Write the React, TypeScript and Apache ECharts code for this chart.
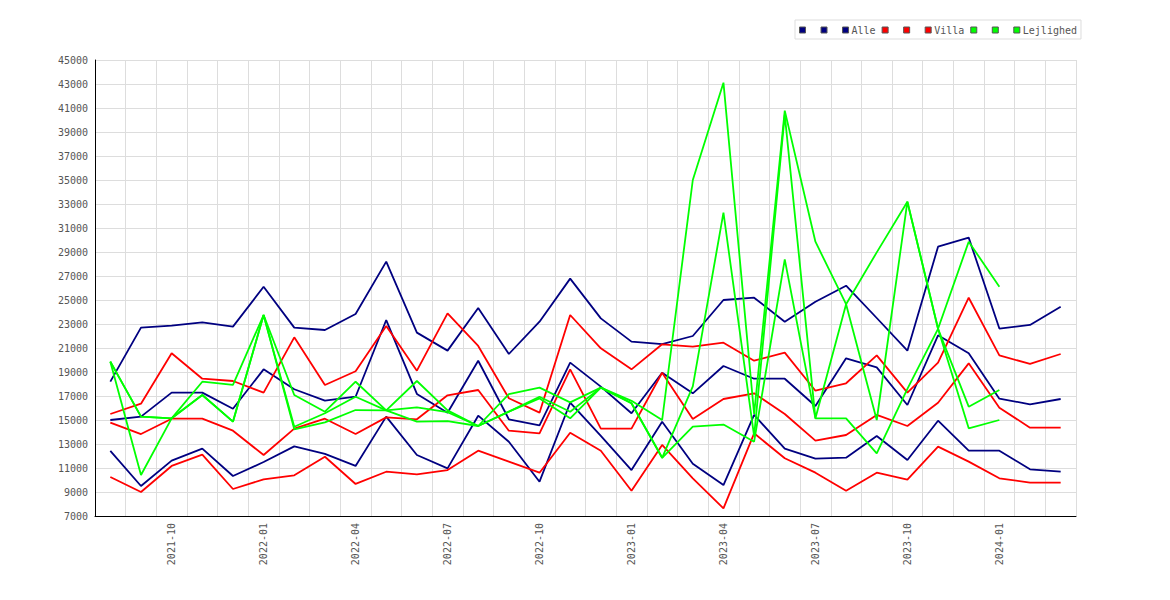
import React, { useEffect, useRef } from "react";
import * as echarts from "echarts";

const months = [
  "2021-08", "2021-09", "2021-10", "2021-11", "2021-12",
  "2022-01", "2022-02", "2022-03", "2022-04", "2022-05", "2022-06",
  "2022-07", "2022-08", "2022-09", "2022-10", "2022-11", "2022-12",
  "2023-01", "2023-02", "2023-03", "2023-04", "2023-05", "2023-06",
  "2023-07", "2023-08", "2023-09", "2023-10", "2023-11", "2023-12",
  "2024-01", "2024-02", "2024-03",
];

const yTicks = { min: 7000, max: 45000, step: 2000 };

const alleHigh = [18200, 22700, 22860, 23140, 22780, 26100, 22700, 22500, 23830, 28200, 22280, 20780, 24330, 20500, 23190, 26780, 23470, 21530, 21330, 22000, 25000, 25190, 23190, 24860, 26190, 23500, 20780, 29440, 30200, 22620, 22920, 24440];
const alleMid = [15000, 15280, 17280, 17280, 15940, 19220, 17560, 16610, 16940, 23330, 17170, 15610, 19940, 15060, 14560, 19780, 17780, 15560, 18940, 17220, 19500, 18440, 18440, 16170, 20140, 19390, 16250, 22060, 20560, 16780, 16310, 16750];
const alleLow = [12420, 9500, 11610, 12610, 10330, 11500, 12800, 12170, 11170, 15280, 12080, 10970, 15360, 13190, 9860, 16440, 13670, 10830, 14860, 11360, 9580, 15420, 12610, 11780, 11860, 13670, 11670, 14940, 12440, 12440, 10890, 10690];

const villaHigh = [15500, 16360, 20560, 18440, 18250, 17280, 21890, 17920, 19060, 22830, 19110, 23890, 21170, 16810, 15610, 23750, 20970, 19220, 21310, 21110, 21440, 19940, 20610, 17440, 18060, 20390, 17280, 19780, 25190, 20390, 19670, 20500];
const villaMid = [14780, 13830, 15110, 15110, 14110, 12080, 14280, 15110, 13830, 15220, 15060, 17060, 17500, 14110, 13890, 19220, 14280, 14280, 18940, 15080, 16750, 17220, 15500, 13280, 13750, 15420, 14500, 16440, 19720, 16030, 14360, 14360];
const villaLow = [10250, 9000, 11170, 12110, 9250, 10060, 10390, 11940, 9670, 10690, 10470, 10830, 12440, 11530, 10610, 13940, 12440, 9110, 12920, 10140, 7640, 13890, 11810, 10610, 9110, 10610, 10030, 12780, 11530, 10140, 9780, 9780];

const lejA = [19860, 15280, 15140, 18190, 17920, 23750, 17080, 15690, 18190, 15800, 18250, 15800, 14500, 17150, 17700, 16470, 17700, 16600, 15000, 35000, 43110, 15500, 40780, 29860, 24650, 15000, 33190, 22600, 29860, 26110, null, null];
const lejB = [19860, 15280, 15140, 17080, 14860, 23750, 14440, 15560, 16940, 15800, 16060, 15650, 14500, 15700, 16940, 15690, 17700, 16400, 11850, 17800, 32280, 13650, 40420, 15140, 24650, 28970, 33190, 22600, 16110, 17500, null, null];
const lejC = [19860, 10420, 15140, 17080, 14860, 23750, 14220, 14800, 15830, 15800, 14860, 14900, 14500, 15700, 16800, 15140, 17700, 16400, 11850, 14440, 14620, 13190, 28390, 15140, 15140, 12220, 17600, 22600, 14310, 15000, null, null];

const NAVY = "#000080";
const RED = "#ff0000";
const GREEN = "#00ff00";
const FONT = "DejaVu Sans Mono";

export default function App() {
  const ref = useRef<HTMLDivElement>(null);
  useEffect(() => {
    if (!ref.current) return;
    const chart = echarts.init(ref.current, null, { renderer: "svg" });
    const mk = (name: string, data: (number | null)[], color: string) => ({
      name,
      type: "line",
      data,
      symbol: "none",
      showSymbol: false,
      connectNulls: false,
      lineStyle: { color, width: 1.8 },
      itemStyle: { color },
      emphasis: { disabled: true },
    });
    chart.setOption({
      animation: false,
      backgroundColor: "#ffffff",
      grid: { left: 95, right: 94, top: 60, bottom: 84, containLabel: false },
      legend: {
        left: 795,
        top: 20,
        padding: [5, 4, 4, 4],
        itemWidth: 6,
        itemHeight: 6,
        itemGap: 6,
        icon: "rect",
        borderColor: "#dddddd",
        borderWidth: 1,
        selectedMode: false,
        itemStyle: { borderColor: "#555555", borderWidth: 1 },
        textStyle: { fontFamily: FONT, fontSize: 10, color: "#555555", padding: [0, 0, 0, -2] },
        formatter: (name: string) => (name.indexOf("_") >= 0 ? " " : name),
        data: ["Alle_1", "Alle_2", "Alle", "Villa_1", "Villa_2", "Villa", "Lejlighed_1", "Lejlighed_2", "Lejlighed"],
      },
      xAxis: {
        type: "category",
        data: months,
        boundaryGap: true,
        axisLine: { show: true, lineStyle: { color: "#000000", width: 1 } },
        axisTick: { show: false },
        axisLabel: {
          rotate: 90,
          margin: 7,
          fontFamily: FONT,
          fontSize: 10,
          color: "#555555",
          interval: (_i: number, v: string) => ["01", "04", "07", "10"].indexOf(v.slice(5)) >= 0,
        },
        splitLine: { show: true, interval: 0, lineStyle: { color: "#dddddd", width: 1 } },
      },
      yAxis: {
        type: "value",
        min: yTicks.min,
        max: yTicks.max,
        interval: yTicks.step,
        axisLine: { show: true, lineStyle: { color: "#000000", width: 1 } },
        axisTick: { show: false },
        axisLabel: {
          margin: 7,
          fontFamily: FONT,
          fontSize: 10,
          color: "#555555",
          formatter: (v: number) => String(v),
        },
        splitLine: { show: true, lineStyle: { color: "#dddddd", width: 1 } },
      },
      series: [
        mk("Alle_1", alleHigh, NAVY),
        mk("Alle_2", alleMid, NAVY),
        mk("Alle", alleLow, NAVY),
        mk("Villa_1", villaHigh, RED),
        mk("Villa_2", villaMid, RED),
        mk("Villa", villaLow, RED),
        mk("Lejlighed_1", lejA, GREEN),
        mk("Lejlighed_2", lejB, GREEN),
        mk("Lejlighed", lejC, GREEN),
      ],
    });
    return () => chart.dispose();
  }, []);
  return (
    <div
      ref={ref}
      style={{ position: "fixed", left: 0, top: 0, width: 1170, height: 600, background: "#ffffff" }}
    />
  );
}
